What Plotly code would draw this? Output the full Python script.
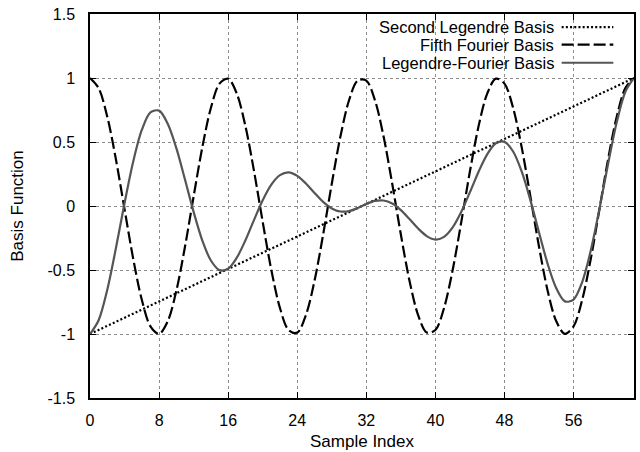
import plotly.graph_objects as go

# Sample indices 0..63
sample_index = list(range(64))

# Second Legendre basis (linear ramp from -1 to 1)
legendre_2 = [
    -1.000, -0.968, -0.937, -0.905, -0.873, -0.841, -0.810, -0.778,
    -0.746, -0.714, -0.683, -0.651, -0.619, -0.587, -0.556, -0.524,
    -0.492, -0.460, -0.429, -0.397, -0.365, -0.333, -0.302, -0.270,
    -0.238, -0.206, -0.175, -0.143, -0.111, -0.079, -0.048, -0.016,
    0.016, 0.048, 0.079, 0.111, 0.143, 0.175, 0.206, 0.238,
    0.270, 0.302, 0.333, 0.365, 0.397, 0.429, 0.460, 0.492,
    0.524, 0.556, 0.587, 0.619, 0.651, 0.683, 0.714, 0.746,
    0.778, 0.810, 0.841, 0.873, 0.905, 0.937, 0.968, 1.000,
]

# Fifth Fourier basis (four full cycles over the window)
fourier_5 = [
    1.000, 0.921, 0.698, 0.365, -0.025, -0.411, -0.733, -0.940,
    -0.999, -0.901, -0.662, -0.318, 0.075, 0.456, 0.766, 0.956,
    0.995, 0.878, 0.624, 0.271, -0.124, -0.500, -0.797, -0.969,
    -0.989, -0.853, -0.584, -0.223, 0.174, 0.543, 0.826, 0.980,
    0.980, 0.826, 0.543, 0.174, -0.223, -0.584, -0.853, -0.989,
    -0.969, -0.797, -0.500, -0.124, 0.271, 0.624, 0.878, 0.995,
    0.956, 0.766, 0.456, 0.075, -0.318, -0.662, -0.901, -0.999,
    -0.940, -0.733, -0.411, -0.025, 0.365, 0.698, 0.921, 1.000,
]

# Legendre-Fourier product basis
legendre_fourier = [
    -1.000, -0.892, -0.654, -0.330, 0.022, 0.346, 0.594, 0.731,
    0.745, 0.643, 0.452, 0.207, -0.046, -0.268, -0.426, -0.501,
    -0.490, -0.404, -0.268, -0.108, 0.045, 0.167, 0.241, 0.262,
    0.235, 0.176, 0.102, 0.032, -0.019, -0.043, -0.040, -0.016,
    0.016, 0.040, 0.043, 0.019, -0.032, -0.102, -0.176, -0.235,
    -0.262, -0.241, -0.167, -0.045, 0.108, 0.268, 0.404, 0.490,
    0.501, 0.426, 0.268, 0.046, -0.207, -0.452, -0.643, -0.745,
    -0.731, -0.594, -0.346, -0.022, 0.330, 0.654, 0.892, 1.000,
]

series_names = ["Second Legendre Basis", "Fifth Fourier Basis", "Legendre-Fourier Basis"]

x_ticks = [0, 8, 16, 24, 32, 40, 48, 56]
y_ticks = [-1.5, -1, -0.5, 0, 0.5, 1, 1.5]
y_tick_text = ["-1.5", "-1", "-0.5", "0", "0.5", "1", "1.5"]

FONT = "Liberation Sans, Arial, Helvetica, sans-serif"
dot_style = dict(color="black", width=2.2, dash="2px,2.2px")
dash_style = dict(color="black", width=2.2, dash="12px,4px")
solid_style = dict(color="#555555", width=2.2)

fig = go.Figure()
fig.add_trace(go.Scatter(x=sample_index, y=legendre_2, mode="lines",
                         line=dot_style, name=series_names[0]))
fig.add_trace(go.Scatter(x=sample_index, y=fourier_5, mode="lines",
                         line=dict(dash_style, shape="spline", smoothing=0.9),
                         name=series_names[1]))
fig.add_trace(go.Scatter(x=sample_index, y=legendre_fourier, mode="lines",
                         line=dict(solid_style, shape="spline", smoothing=0.9),
                         name=series_names[2]))

axis_common = dict(
    showline=True, linecolor="black", linewidth=1.5, mirror="ticks",
    ticks="inside", ticklen=6, tickcolor="black", tickwidth=1,
    showgrid=True, gridcolor="#8c8c8c", gridwidth=1, griddash="dot",
    zeroline=False, tickfont=dict(family=FONT, size=16, color="black"),
)

fig.update_xaxes(range=[0, 63], tickvals=x_ticks, ticklabelstandoff=7,
                 title=dict(text="Sample Index", standoff=7,
                            font=dict(family=FONT, size=17, color="black")),
                 **axis_common)
fig.update_yaxes(range=[-1.5, 1.5], tickvals=y_ticks, ticktext=y_tick_text,
                 ticklabelstandoff=10,
                 title=dict(text="Basis Function", standoff=20,
                            font=dict(family=FONT, size=17, color="black")),
                 **axis_common)

# Key drawn in the upper-right corner: right-aligned labels with samples after them
key_rows_y = [0.966, 0.920, 0.873]
key_styles = [dot_style, dash_style, solid_style]
shapes = [dict(type="rect", xref="paper", yref="paper", x0=0.50, x1=1.0,
               y0=0.85, y1=1.0, fillcolor="white", line=dict(width=0),
               layer="between")]
annotations = []
for name, ky, style in zip(series_names, key_rows_y, key_styles):
    annotations.append(dict(text=name, xref="paper", yref="paper", x=0.855, y=ky,
                            xanchor="right", yanchor="middle", showarrow=False,
                            borderpad=0,
                            font=dict(family=FONT, size=16.5, color="black")))
    shapes.append(dict(type="line", xref="paper", yref="paper", x0=0.867, x1=0.962,
                       y0=ky, y1=ky, line=style, layer="above"))

fig.update_layout(
    width=640, height=452,
    margin=dict(l=90, r=4, t=14, b=51),
    paper_bgcolor="white", plot_bgcolor="white",
    showlegend=False,
    shapes=shapes, annotations=annotations,
    font=dict(family=FONT, color="black"),
)

fig.write_html("out.html")
